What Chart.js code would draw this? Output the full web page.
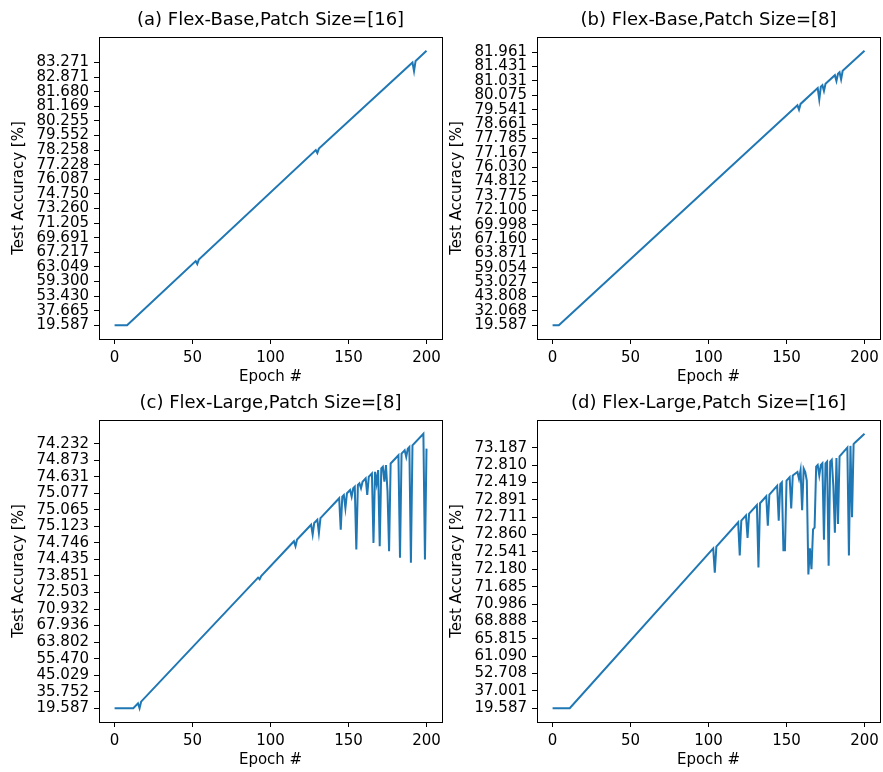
<!DOCTYPE html>
<html>
<head>
<meta charset="utf-8">
<script src="https://cdn.jsdelivr.net/npm/chart.js@4/dist/chart.umd.min.js"></script>
<style>
html,body{margin:0;padding:0;background:#fff;width:883px;height:772px;overflow:hidden;position:relative;}
.panel{position:absolute;width:446px;height:386px;}
canvas{display:block;}
</style>
</head>
<body>
<div class="panel" style="left:0px;top:0px"><canvas id="ca" width="446" height="386"></canvas></div>
<div class="panel" style="left:438px;top:0px"><canvas id="cb" width="446" height="386"></canvas></div>
<div class="panel" style="left:0px;top:383px"><canvas id="cc" width="446" height="386"></canvas></div>
<div class="panel" style="left:438px;top:383px"><canvas id="cd" width="446" height="386"></canvas></div>
<script>
// ---- Data (y values are category indices of the test-accuracy strings) ----
const xTickValues = [0, 50, 100, 150, 200];
const categoryTickStep = 10;

const titleA = "(a) Flex-Base,Patch Size=[16]";
const epochsA = [0, 8, 52, 53, 54, 129, 130, 131, 191, 192, 193, 200];
const valuesA = [0, 0, 44, 42, 45, 120, 118, 121, 180, 174, 181, 188];
const tickLabelsA = ["19.587","37.665","53.430","59.300","63.049","67.217","69.691","71.205","73.260","74.750","76.087","77.228","78.258","79.552","80.255","81.169","81.680","82.871","83.271"];

const titleB = "(b) Flex-Base,Patch Size=[8]";
const epochsB = [0, 4, 157, 158, 159, 170, 171, 172, 173, 174, 175, 181, 182, 183, 184, 185, 186, 200];
const valuesB = [0, 0, 153, 150, 154, 165, 157, 166, 167, 163, 168, 174, 170, 175, 176, 171, 177, 191];
const tickLabelsB = ["19.587","32.068","43.808","53.027","59.054","63.871","67.160","69.998","72.100","73.775","74.812","76.030","77.167","77.785","78.661","79.541","80.075","81.031","81.431","81.961"];

const titleC = "(c) Flex-Large,Patch Size=[8]";
const epochsC = [0, 12, 15, 16, 17, 92, 93, 94, 115, 116, 117, 126, 127, 128, 130, 131, 132, 144, 145, 146, 147, 148, 149, 151, 152, 153, 154, 155, 156, 157, 158, 159, 161, 162, 163, 165, 166, 167, 168, 169, 170, 171, 172, 173, 174, 175, 176, 177, 182, 183, 184, 186, 187, 188, 189, 190, 191, 198, 199, 200];
const valuesC = [0, 0, 3, 0, 4, 79, 78, 80, 101, 98, 102, 111, 105, 112, 114, 106, 115, 127, 108, 128, 129, 121, 130, 132, 128, 133, 134, 96, 135, 136, 133, 137, 139, 129, 140, 142, 100, 143, 136, 144, 98, 145, 146, 137, 147, 131, 95, 148, 153, 91, 154, 156, 152, 157, 158, 88, 159, 166, 90, 157];
const tickLabelsC = ["19.587","35.752","45.029","55.470","63.802","67.936","70.932","72.503","73.851","74.435","74.746","75.123","75.065","75.077","74.631","74.873","74.232"];

const titleD = "(d) Flex-Large,Patch Size=[16]";
const epochsD = [0, 11, 103, 104, 105, 119, 120, 121, 124, 125, 126, 131, 132, 133, 137, 138, 139, 144, 145, 146, 147, 148, 149, 150, 152, 153, 154, 157, 158, 159, 160, 161, 162, 163, 164, 165, 166, 167, 168, 169, 170, 171, 172, 173, 174, 175, 176, 177, 178, 179, 180, 181, 182, 183, 184, 189, 190, 191, 192, 193, 194, 200];
const valuesD = [0, 0, 92, 78, 93, 107, 88, 108, 111, 98, 112, 117, 81, 118, 122, 105, 123, 128, 108, 129, 130, 91, 91, 131, 133, 115, 134, 136, 132, 137, 114, 138, 136, 131, 77, 92, 80, 103, 104, 139, 140, 134, 140, 141, 97, 141, 142, 82, 142, 143, 128, 101, 144, 106, 145, 150, 88, 151, 110, 152, 153, 158];
const tickLabelsD = ["19.587","37.001","52.708","61.090","65.815","68.888","70.986","71.685","72.180","72.541","72.860","72.711","72.891","72.419","72.810","73.187"];

// ---- Drawing ----
Chart.defaults.font.family = "'DejaVu Sans', sans-serif";
Chart.defaults.color = '#000';

const framePlugin = {
  id: 'frame',
  afterDatasetsDraw(chart) {
    const a = chart.chartArea, ctx = chart.ctx;
    ctx.save();
    ctx.strokeStyle = '#000';
    ctx.lineWidth = 1;
    ctx.strokeRect(Math.round(a.left) + 0.5, Math.round(a.top) + 0.5,
                   Math.round(a.right - a.left), Math.round(a.bottom - a.top));
    ctx.restore();
  }
};

function makeChart(id, title, epochs, values, tickLabels) {
  const maxV = Math.max(...values), minV = Math.min(...values);
  const span = maxV - minV;
  const yTickValues = tickLabels.map((_, i) => i * categoryTickStep);
  const gridOpts = { display: true, drawOnChartArea: false, drawTicks: true, tickLength: 5, color: '#000', lineWidth: 1 };
  return new Chart(document.getElementById(id), {
    type: 'line',
    data: {
      datasets: [{
        data: epochs.map((e, i) => ({ x: e, y: values[i] })),
        borderColor: '#1f77b4',
        borderWidth: 2,
        pointRadius: 0,
        tension: 0,
        fill: false
      }]
    },
    options: {
      responsive: false,
      animation: false,
      devicePixelRatio: 1,
      layout: { padding: { left: 0, right: 3, top: 0, bottom: 0 } },
      plugins: {
        legend: { display: false },
        tooltip: { enabled: false },
        title: {
          display: true, text: title, color: '#000', fullSize: false,
          font: { size: 18, weight: 'normal' },
          padding: { top: 10, bottom: 5.4 }
        }
      },
      scales: {
        x: {
          type: 'linear', min: -10, max: 210,
          afterBuildTicks: s => { s.ticks = xTickValues.map(v => ({ value: v })); },
          afterFit: s => { s.height = 47; },
          grid: gridOpts,
          border: { display: false },
          ticks: { padding: 5, font: { size: 15 }, color: '#000', maxRotation: 0, autoSkip: false },
          title: { display: true, text: 'Epoch #', color: '#000', font: { size: 15 }, padding: { top: 0, bottom: 0 } }
        },
        y: {
          type: 'linear', min: minV - 0.05 * span, max: maxV + 0.05 * span,
          afterBuildTicks: s => { s.ticks = yTickValues.map(v => ({ value: v })); },
          afterFit: s => { s.width = 99; },
          grid: gridOpts,
          border: { display: false },
          ticks: {
            padding: 5, font: { size: 15 }, color: '#000', autoSkip: false,
            callback: (v) => tickLabels[Math.round(v / categoryTickStep)]
          },
          title: { display: true, text: 'Test Accuracy [%]', color: '#000', font: { size: 15 }, padding: { top: 10.2, bottom: 0 } }
        }
      }
    },
    plugins: [framePlugin]
  });
}

makeChart('ca', titleA, epochsA, valuesA, tickLabelsA);
makeChart('cb', titleB, epochsB, valuesB, tickLabelsB);
makeChart('cc', titleC, epochsC, valuesC, tickLabelsC);
makeChart('cd', titleD, epochsD, valuesD, tickLabelsD);
</script>
</body>
</html>
